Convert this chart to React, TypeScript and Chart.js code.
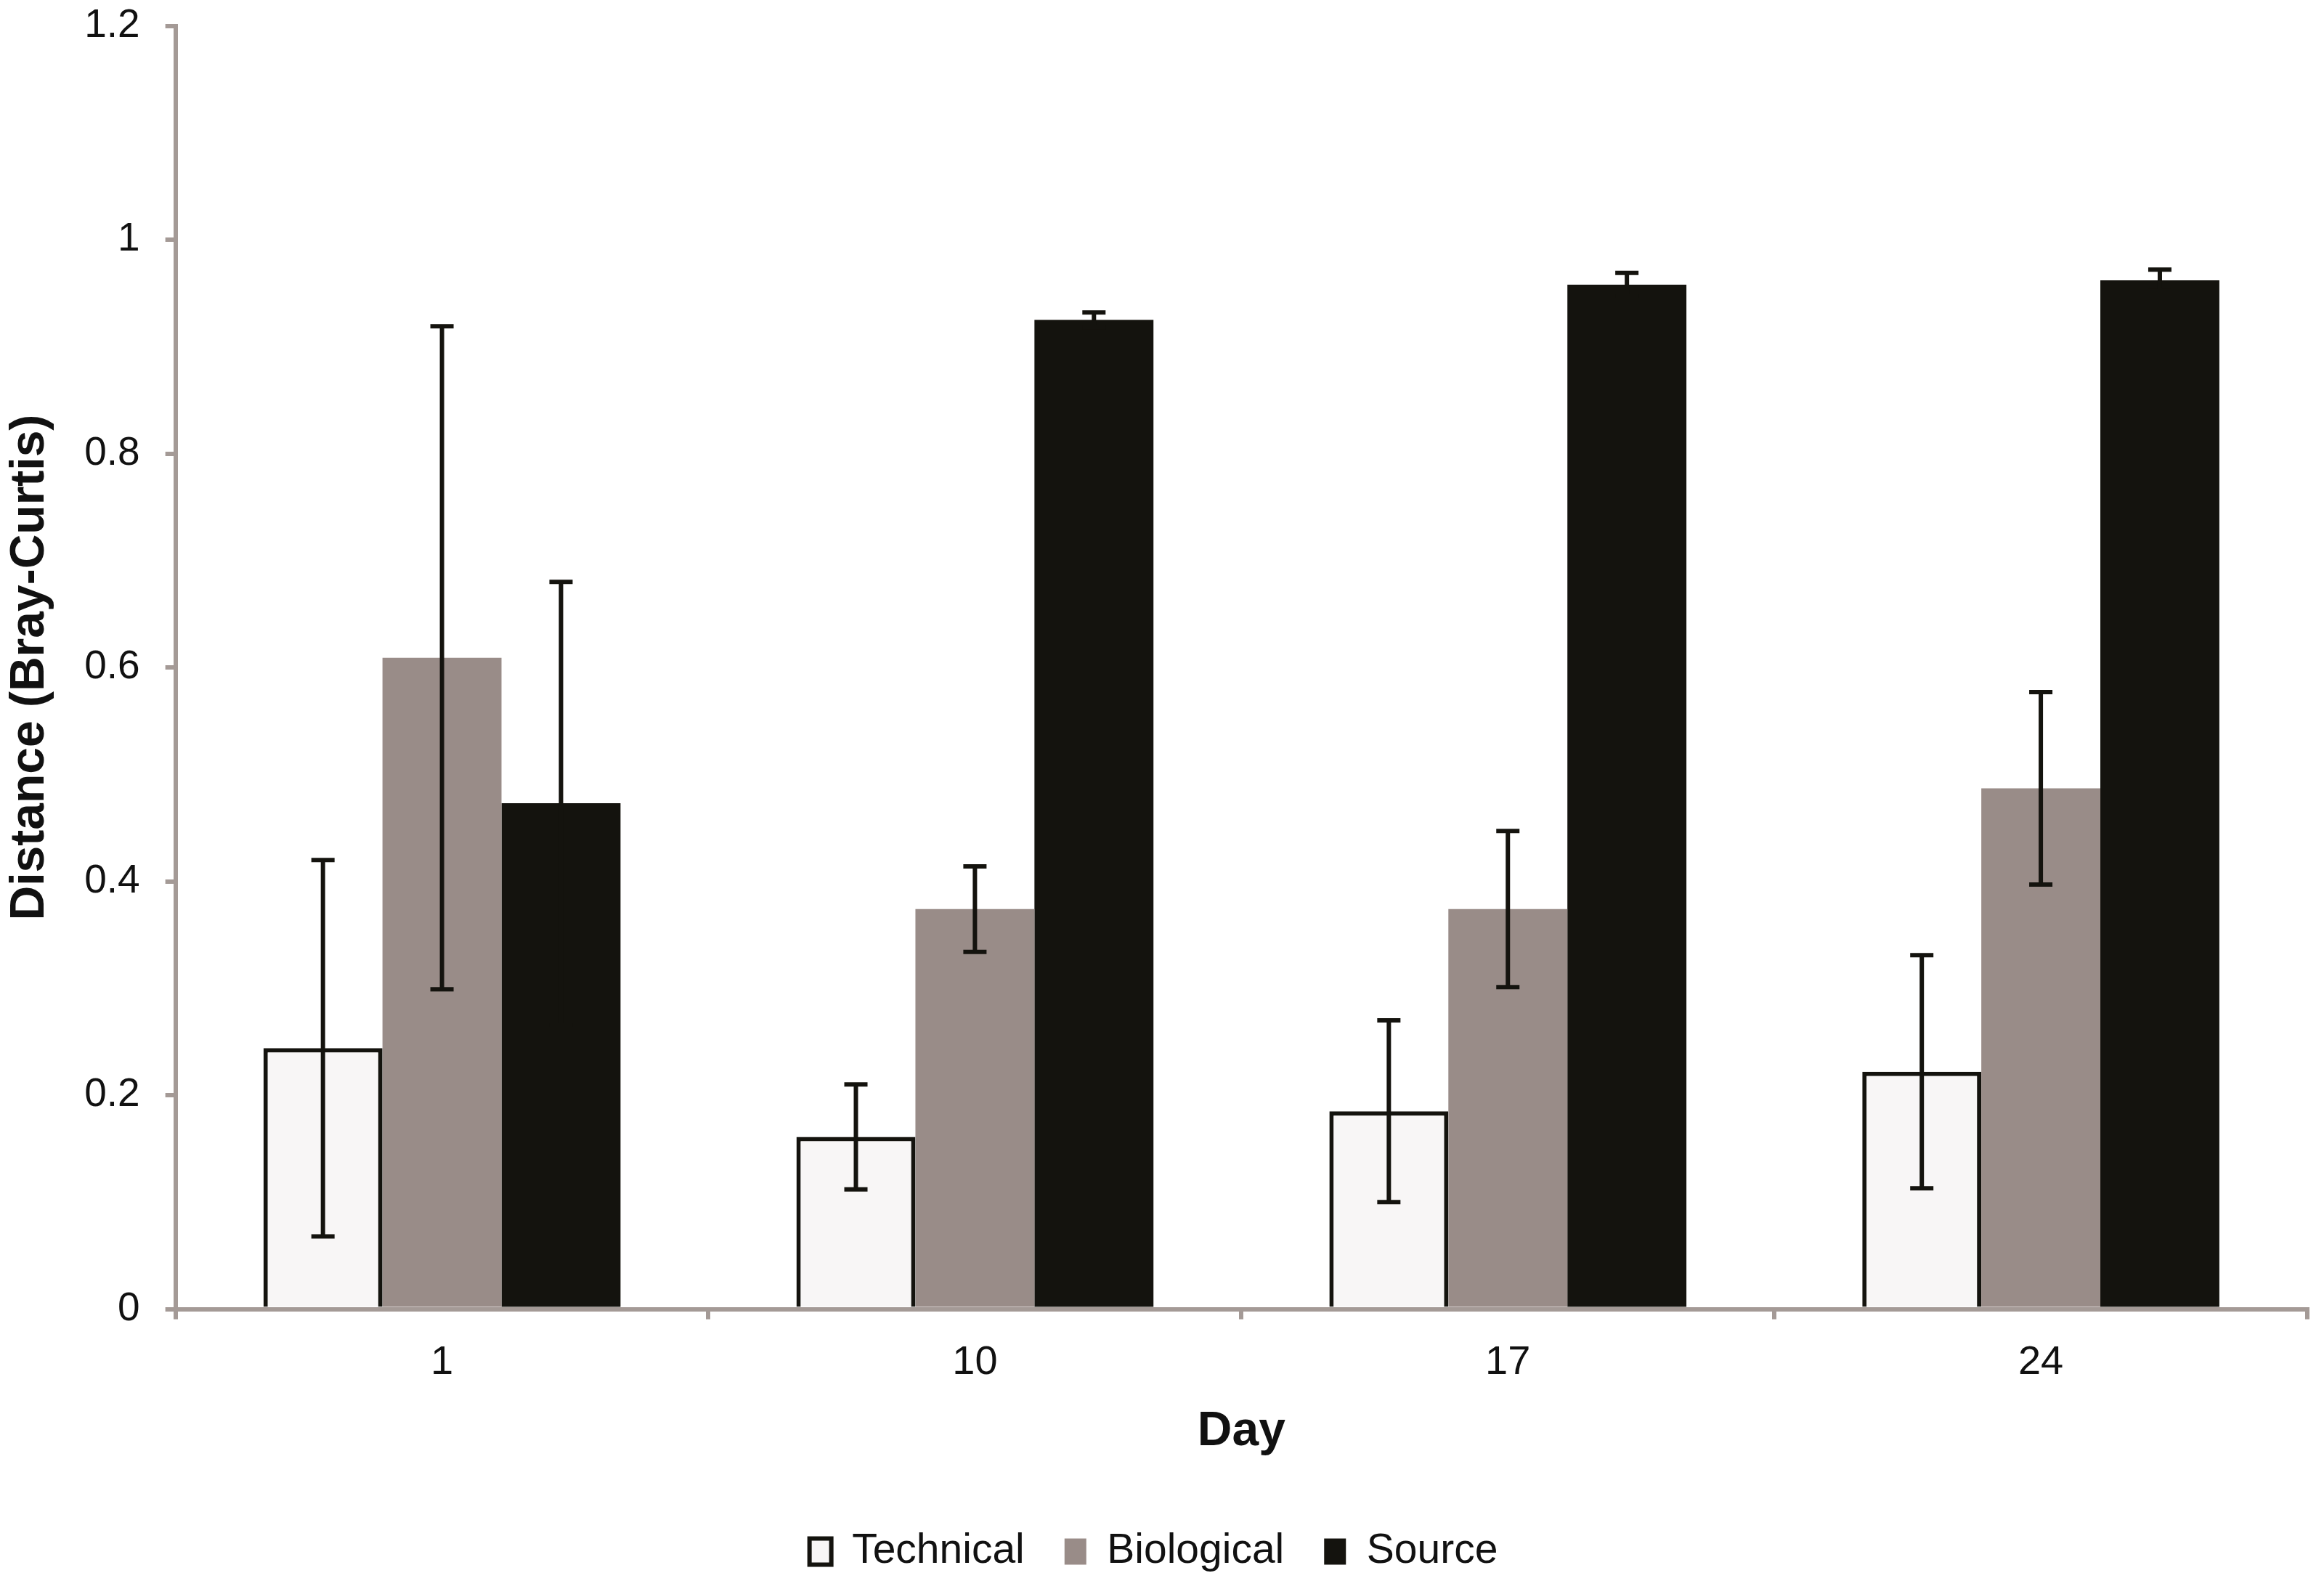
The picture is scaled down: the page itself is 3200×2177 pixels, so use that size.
import { useEffect, useRef } from 'react';
import { Chart, registerables, Plugin } from 'chart.js';

Chart.register(...registerables);

const days = ['1', '10', '17', '24'];
const technical = [0.244, 0.161, 0.185, 0.222];
const technicalErr = [0.176, 0.049, 0.085, 0.109];
const biological = [0.609, 0.374, 0.374, 0.487];
const biologicalErr = [0.31, 0.04, 0.073, 0.09];
const source = [0.473, 0.925, 0.958, 0.962];
const sourceErr = [0.207, 0.007, 0.011, 0.01];

const AXIS = '#a49a96';
const INK = '#14130e';
const FONT = "'Liberation Sans', Arial, sans-serif";

// draws +/- error whiskers on top of every bar
const errorBars: Plugin<'bar'> = {
  id: 'errorBars',
  afterDatasetsDraw(chart) {
    const { ctx, scales } = chart;
    const y = scales.y;
    ctx.save();
    ctx.strokeStyle = INK;
    ctx.lineWidth = 6;
    chart.data.datasets.forEach((ds: any, i) => {
      const meta = chart.getDatasetMeta(i);
      meta.data.forEach((bar: any, j) => {
        const v = ds.data[j] as number;
        const e = ds.errors[j] as number;
        const top = y.getPixelForValue(v + e);
        const bottom = y.getPixelForValue(v - e);
        const cap = 16;
        ctx.beginPath();
        ctx.moveTo(bar.x, top);
        ctx.lineTo(bar.x, bottom);
        ctx.moveTo(bar.x - cap, top);
        ctx.lineTo(bar.x + cap, top);
        ctx.moveTo(bar.x - cap, bottom);
        ctx.lineTo(bar.x + cap, bottom);
        ctx.stroke();
      });
    });
    ctx.restore();
  },
};

export default function App() {
  const chartRef = useRef<HTMLCanvasElement>(null);
  const chartInstance = useRef<Chart | null>(null);

  useEffect(() => {
    if (!chartRef.current) return;
    if (chartInstance.current) chartInstance.current.destroy();
    const ctx = chartRef.current.getContext('2d');
    if (!ctx) return;

    chartInstance.current = new Chart(ctx, {
      type: 'bar',
      data: {
        labels: days,
        datasets: [
          {
            label: 'Technical',
            data: technical,
            errors: technicalErr,
            backgroundColor: '#f8f6f6',
            borderColor: INK,
            borderWidth: 6,
          } as any,
          {
            label: 'Biological',
            data: biological,
            errors: biologicalErr,
            backgroundColor: '#998c88',
            borderWidth: 0,
          } as any,
          {
            label: 'Source',
            data: source,
            errors: sourceErr,
            backgroundColor: INK,
            borderWidth: 0,
          } as any,
        ],
      },
      options: {
        responsive: true,
        maintainAspectRatio: false,
        animation: false,
        devicePixelRatio: 1,
        datasets: { bar: { categoryPercentage: 0.67, barPercentage: 1 } },
        layout: { padding: { top: 0, right: 23, left: 0, bottom: 2 } },
        plugins: {
          tooltip: { enabled: false },
          legend: {
            position: 'bottom',
            labels: {
              color: '#111',
              font: { family: FONT, size: 57 },
              boxWidth: 30,
              boxHeight: 36,
              padding: 55,
            },
          },
        },
        scales: {
          x: {
            grid: { drawOnChartArea: false, color: AXIS, lineWidth: 6, tickLength: 14 },
            border: { color: AXIS, width: 6 },
            ticks: { color: '#111', font: { family: FONT, size: 56 }, padding: 26 },
            title: {
              display: true,
              text: 'Day',
              color: '#111',
              font: { family: FONT, size: 66, weight: 'bold' },
              padding: { top: -4, bottom: 42 },
            },
          },
          y: {
            min: 0,
            max: 1.2,
            grid: { drawOnChartArea: false, color: AXIS, lineWidth: 6, tickLength: 14 },
            border: { color: AXIS, width: 6 },
            ticks: {
              stepSize: 0.2,
              color: '#111',
              font: { family: FONT, size: 55, lineHeight: 0.02 },
              padding: 35,
              callback: (v) => String(Math.round(Number(v) * 10) / 10),
            },
            title: {
              display: true,
              text: 'Distance (Bray-Curtis)',
              color: '#111',
              font: { family: FONT, size: 66, weight: 'bold' },
              padding: { top: 2, bottom: 0 },
            },
          },
        },
      },
      plugins: [errorBars],
    });

    return () => {
      if (chartInstance.current) {
        chartInstance.current.destroy();
        chartInstance.current = null;
      }
    };
  }, []);

  return (
    <div style={{ position: 'absolute', left: 0, top: 0, width: 3200, height: 2177, background: '#fff' }}>
      <canvas ref={chartRef} />
    </div>
  );
}
